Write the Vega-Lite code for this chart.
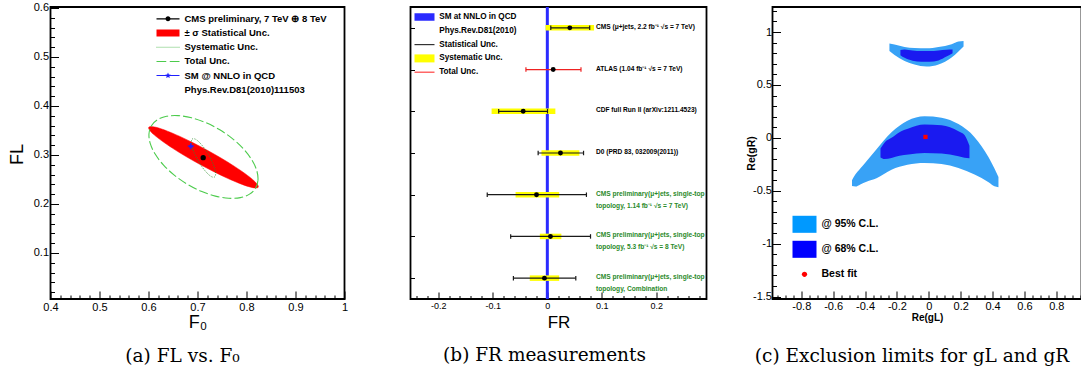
{
"$schema": "https://vega.github.io/schema/vega-lite/v6.json",
"background": "white",
"autosize": {"type": "pad"},
"padding": {"left": 6.5, "top": 1, "right": 0, "bottom": 0},
"bounds": "flush",
"spacing": 66,
"config": {
 "view": {"stroke": "#000000", "strokeWidth": 1.8},
 "axis": {"domain": false, "grid": false, "labelFlush": false, "labelOverlap": false, "labelBound": false, "tickColor": "#000000", "tickWidth": 1, "labelColor": "#000000", "titleColor": "#000000", "labelFont": "Liberation Sans", "titleFont": "Liberation Sans", "titleFontWeight": "normal"},
 "legend": {"padding": 0, "labelFont": "Liberation Sans", "labelFontWeight": "bold", "labelColor": "#000000", "symbolStrokeWidth": 0, "orient": "none"},
 "title": {"font": "DejaVu Serif", "fontSize": 18.5, "fontWeight": "normal", "color": "#000000", "orient": "bottom", "anchor": "middle"}
},
"resolve": {"scale": {"color": "independent", "shape": "independent"}, "legend": {"color": "independent", "shape": "independent"}},
"datasets": {
 "stat": [
  {"i":0,"F0":0.8239,"FL":0.2342},{"i":1,"F0":0.8221,"FL":0.2400},{"i":2,"F0":0.8128,"FL":0.2496},{"i":3,"F0":0.7967,"FL":0.2622},
  {"i":4,"F0":0.7749,"FL":0.2771},{"i":5,"F0":0.7487,"FL":0.2933},{"i":6,"F0":0.7200,"FL":0.3096},{"i":7,"F0":0.6909,"FL":0.3249},
  {"i":8,"F0":0.6631,"FL":0.3383},{"i":9,"F0":0.6387,"FL":0.3486},{"i":10,"F0":0.6194,"FL":0.3554},{"i":11,"F0":0.6063,"FL":0.3580},
  {"i":12,"F0":0.6005,"FL":0.3564},{"i":13,"F0":0.6023,"FL":0.3506},{"i":14,"F0":0.6116,"FL":0.3410},{"i":15,"F0":0.6277,"FL":0.3284},
  {"i":16,"F0":0.6495,"FL":0.3135},{"i":17,"F0":0.6757,"FL":0.2973},{"i":18,"F0":0.7044,"FL":0.2810},{"i":19,"F0":0.7335,"FL":0.2657},
  {"i":20,"F0":0.7613,"FL":0.2523},{"i":21,"F0":0.7857,"FL":0.2420},{"i":22,"F0":0.8050,"FL":0.2352},{"i":23,"F0":0.8181,"FL":0.2326}
 ],
 "tot": [
  {"i":0,"F0":0.8184,"FL":0.2321},{"i":1,"F0":0.8234,"FL":0.2486},{"i":2,"F0":0.8209,"FL":0.2683},{"i":3,"F0":0.8108,"FL":0.2900},
  {"i":4,"F0":0.7941,"FL":0.3120},{"i":5,"F0":0.7719,"FL":0.3329},{"i":6,"F0":0.7455,"FL":0.3513},{"i":7,"F0":0.7169,"FL":0.3659},
  {"i":8,"F0":0.6879,"FL":0.3758},{"i":9,"F0":0.6606,"FL":0.3802},{"i":10,"F0":0.6369,"FL":0.3789},{"i":11,"F0":0.6182,"FL":0.3718},
  {"i":12,"F0":0.6060,"FL":0.3597},{"i":13,"F0":0.6010,"FL":0.3432},{"i":14,"F0":0.6035,"FL":0.3235},{"i":15,"F0":0.6136,"FL":0.3018},
  {"i":16,"F0":0.6303,"FL":0.2798},{"i":17,"F0":0.6525,"FL":0.2589},{"i":18,"F0":0.6789,"FL":0.2405},{"i":19,"F0":0.7075,"FL":0.2259},
  {"i":20,"F0":0.7365,"FL":0.2160},{"i":21,"F0":0.7638,"FL":0.2116},{"i":22,"F0":0.7875,"FL":0.2129},{"i":23,"F0":0.8062,"FL":0.2200}
 ],
 "sys": [
  {"i":0,"F0":0.7346,"FL":0.2550},{"i":1,"F0":0.7369,"FL":0.2633},{"i":2,"F0":0.7326,"FL":0.2797},{"i":3,"F0":0.7228,"FL":0.3000},
  {"i":4,"F0":0.7102,"FL":0.3186},{"i":5,"F0":0.6981,"FL":0.3307},{"i":6,"F0":0.6898,"FL":0.3328},{"i":7,"F0":0.6875,"FL":0.3245},
  {"i":8,"F0":0.6918,"FL":0.3081},{"i":9,"F0":0.7016,"FL":0.2878},{"i":10,"F0":0.7142,"FL":0.2692},{"i":11,"F0":0.7263,"FL":0.2571}
 ],
 "cms": [{"F0":0.7116,"FL":0.2945}],
 "sm": [{"F0":0.6864,"FL":0.3178,"F0lo":0.6800,"F0hi":0.6928,"FLlo":0.3112,"FLhi":0.3244}],
 "smband": [{"lo":-0.0025,"hi":0.0030}],
 "fr": [
  {"exp":"CMS","label1":"CMS (μ+jets, 2.2 fb⁻¹ √s = 7 TeV)","label2":null,"val":0.0415,"slo":-0.003,"shi":0.086,"stlo":0.0066,"sthi":0.078,"tlo":null,"thi":null},
  {"exp":"ATLAS","label1":"ATLAS (1.04 fb⁻¹ √s = 7 TeV)","label2":null,"val":0.011,"slo":null,"shi":null,"stlo":null,"sthi":null,"tlo":-0.039,"thi":0.062},
  {"exp":"CDF","label1":"CDF full Run II (arXiv:1211.4523)","label2":null,"val":-0.044,"slo":-0.102,"shi":0.015,"stlo":-0.089,"sthi":0.0006,"tlo":null,"thi":null},
  {"exp":"D0","label1":"D0 (PRD 83, 032009(2011))","label2":null,"val":0.0244,"slo":-0.0105,"shi":0.059,"stlo":-0.0166,"sthi":0.0667,"tlo":null,"thi":null},
  {"exp":"P7","label1":"CMS preliminary(μ+jets, single-top","label2":" topology, 1.14 fb⁻¹ √s = 7 TeV)","val":-0.0196,"slo":-0.058,"shi":0.022,"stlo":-0.110,"sthi":0.072,"tlo":null,"thi":null},
  {"exp":"P8","label1":"CMS preliminary(μ+jets, single-top","label2":" topology, 5.3 fb⁻¹ √s = 8 TeV)","val":0.006,"slo":-0.0135,"shi":0.026,"stlo":-0.067,"sthi":0.0795,"tlo":null,"thi":null},
  {"exp":"PC","label1":"CMS preliminary(μ+jets, single-top","label2":" topology, Combination","val":-0.005,"slo":-0.032,"shi":0.022,"stlo":-0.062,"sthi":0.0525,"tlo":null,"thi":null}
 ],
 "cres": [
  {"r":"L95","gL":-0.482,"top":-0.400,"bot":-0.455},{"r":"L95","gL":-0.460,"top":-0.345,"bot":-0.460},{"r":"L95","gL":-0.430,"top":-0.290,"bot":-0.440},
  {"r":"L95","gL":-0.391,"top":-0.220,"bot":-0.414},{"r":"L95","gL":-0.328,"top":-0.107,"bot":-0.381},{"r":"L95","gL":-0.234,"top":0.054,"bot":-0.301},
  {"r":"L95","gL":-0.134,"top":0.163,"bot":-0.254},{"r":"L95","gL":-0.027,"top":0.205,"bot":-0.237},{"r":"L95","gL":0.080,"top":0.191,"bot":-0.246},
  {"r":"L95","gL":0.186,"top":0.130,"bot":-0.284},{"r":"L95","gL":0.287,"top":0.007,"bot":-0.346},{"r":"L95","gL":0.375,"top":-0.183,"bot":-0.419},
  {"r":"L95","gL":0.412,"top":-0.290,"bot":-0.457},{"r":"L95","gL":0.437,"top":-0.370,"bot":-0.466},
  {"r":"U95","gL":-0.247,"top":0.891,"bot":0.820},{"r":"U95","gL":-0.215,"top":0.882,"bot":0.783},{"r":"U95","gL":-0.152,"top":0.858,"bot":0.726},
  {"r":"U95","gL":-0.090,"top":0.849,"bot":0.693},{"r":"U95","gL":-0.014,"top":0.846,"bot":0.674},{"r":"U95","gL":0.061,"top":0.858,"bot":0.693},
  {"r":"U95","gL":0.143,"top":0.886,"bot":0.759},{"r":"U95","gL":0.186,"top":0.910,"bot":0.816},{"r":"U95","gL":0.218,"top":0.915,"bot":0.863},
  {"r":"L68","gL":-0.303,"top":-0.100,"bot":-0.185},{"r":"L68","gL":-0.278,"top":-0.045,"bot":-0.200},{"r":"L68","gL":-0.234,"top":0.000,"bot":-0.190},
  {"r":"L68","gL":-0.184,"top":0.054,"bot":-0.170},{"r":"L68","gL":-0.127,"top":0.089,"bot":-0.157},{"r":"L68","gL":-0.027,"top":0.127,"bot":-0.142},
  {"r":"L68","gL":0.080,"top":0.120,"bot":-0.148},{"r":"L68","gL":0.186,"top":0.063,"bot":-0.173},{"r":"L68","gL":0.224,"top":0.026,"bot":-0.187},
  {"r":"L68","gL":0.255,"top":-0.075,"bot":-0.192},
  {"r":"U68","gL":-0.178,"top":0.830,"bot":0.782},{"r":"U68","gL":-0.152,"top":0.836,"bot":0.757},{"r":"U68","gL":-0.102,"top":0.825,"bot":0.730},
  {"r":"U68","gL":-0.046,"top":0.820,"bot":0.719},{"r":"U68","gL":0.004,"top":0.820,"bot":0.719},{"r":"U68","gL":0.061,"top":0.827,"bot":0.732},
  {"r":"U68","gL":0.111,"top":0.834,"bot":0.768},{"r":"U68","gL":0.149,"top":0.836,"bot":0.801}
 ],
 "best": [{"gL":-0.021,"gR":0.009}],
 "none": [{"k":"x"}]
},
"hconcat": [
 {
  "width": 294, "height": 292,
  "title": {"text": "(a) FL vs. F₀", "orient": "bottom", "offset": 15, "dx": -15},
  "resolve": {"axis": {"x": "independent", "y": "independent"}},
  "layer": [
   {"data": {"name": "stat"},
    "mark": {"type": "line", "interpolate": "cardinal-closed", "fill": "#ff0000", "stroke": "#ff0000", "strokeWidth": 0.5},
    "encoding": {
     "x": {"field": "F0", "type": "quantitative", "scale": {"domain": [0.4, 1.0], "nice": false, "zero": false},
       "axis": {"orient": "bottom", "values": [0.4,0.5,0.6,0.7,0.8,0.9,1], "labelExpr": "toString(datum.value)", "tickSize": -8, "labelPadding": 10, "labelFontSize": 11, "title": "F₀", "titleFontSize": 18, "titleY": 28.5, "titleBaseline": "alphabetic"}},
     "y": {"field": "FL", "type": "quantitative", "scale": {"domain": [0.006, 0.602], "nice": false, "zero": false},
       "axis": {"orient": "left", "values": [0.1,0.2,0.3,0.4,0.5,0.6], "labelExpr": "toString(datum.value)", "tickSize": -8, "labelPadding": 10, "labelFontSize": 11, "title": "FL", "titleFontSize": 18, "titleAngle": -90, "titleX": -33.5, "titleY": 147, "titleAlign": "center", "titleBaseline": "middle"}},
     "order": {"field": "i", "type": "quantitative"}
    }},
   {"data": {"name": "tot"},
    "mark": {"type": "line", "interpolate": "cardinal-closed", "stroke": "#4ccb4c", "strokeWidth": 1.1, "strokeDash": [9, 3]},
    "encoding": {
     "x": {"field": "F0", "type": "quantitative", "axis": {"orient": "bottom", "values": [0.42,0.44,0.46,0.48,0.52,0.54,0.56,0.58,0.62,0.64,0.66,0.68,0.72,0.74,0.76,0.78,0.82,0.84,0.86,0.88,0.92,0.94,0.96,0.98], "labels": false, "tickSize": -4, "title": null}},
     "y": {"field": "FL", "type": "quantitative", "axis": {"orient": "left", "values": [0.02,0.04,0.06,0.08,0.12,0.14,0.16,0.18,0.22,0.24,0.26,0.28,0.32,0.34,0.36,0.38,0.42,0.44,0.46,0.48,0.52,0.54,0.56,0.58], "labels": false, "tickSize": -4, "title": null}},
     "order": {"field": "i", "type": "quantitative"}
    }},
   {"data": {"name": "sys"},
    "mark": {"type": "line", "interpolate": "cardinal-closed", "stroke": "#2f8f2f", "strokeWidth": 1, "strokeDash": [1, 1.5]},
    "encoding": {
     "x": {"field": "F0", "type": "quantitative", "axis": null},
     "y": {"field": "FL", "type": "quantitative", "axis": null},
     "order": {"field": "i", "type": "quantitative"}
    }},
   {"data": {"name": "sm"},
    "mark": {"type": "rule", "color": "#2020ff", "strokeWidth": 1},
    "encoding": {
     "x": {"field": "F0lo", "type": "quantitative", "axis": null}, "x2": {"field": "F0hi"},
     "y": {"field": "FL", "type": "quantitative", "axis": null}
    }},
   {"data": {"name": "sm"},
    "mark": {"type": "rule", "color": "#2020ff", "strokeWidth": 1},
    "encoding": {
     "x": {"field": "F0", "type": "quantitative", "axis": null},
     "y": {"field": "FLlo", "type": "quantitative", "axis": null}, "y2": {"field": "FLhi"}
    }},
   {"data": {"name": "sm"},
    "mark": {"type": "point", "filled": true, "color": "#2020ff", "size": 30, "opacity": 1, "shape": "M0,-1L0.29,-0.4L0.95,-0.31L0.47,0.15L0.59,0.81L0,0.5L-0.59,0.81L-0.47,0.15L-0.95,-0.31L-0.29,-0.4Z"},
    "encoding": {
     "x": {"field": "F0", "type": "quantitative", "axis": null},
     "y": {"field": "FL", "type": "quantitative", "axis": null}
    }},
   {"data": {"name": "cms"},
    "mark": {"type": "circle", "color": "#000000", "size": 28, "opacity": 1},
    "encoding": {
     "x": {"field": "F0", "type": "quantitative", "axis": null},
     "y": {"field": "FL", "type": "quantitative", "axis": null}
    }},
   {"data": {"name": "none"},
    "transform": [{"filter": "false"}],
    "mark": {"type": "point", "filled": true, "opacity": 1},
    "encoding": {
     "color": {"field": "k", "type": "nominal",
       "scale": {"domain": ["CMS preliminary, 7 TeV ⊕ 8 TeV", "± σ Statistical Unc.", "Systematic Unc.", "Total Unc.", "SM @ NNLO in QCD", "Phys.Rev.D81(2010)111503"],
                 "range": ["#000000", "#ff0000", "#5fbf5f", "#4ccb4c", "#2020ff", "rgba(0,0,0,0)"]},
       "legend": {"title": null, "legendX": 112.5, "legendY": 6.8, "symbolSize": 100, "labelFontSize": 9.5, "labelOffset": 11.5, "rowPadding": 4.2}},
     "shape": {"field": "k", "type": "nominal",
       "scale": {"domain": ["CMS preliminary, 7 TeV ⊕ 8 TeV", "± σ Statistical Unc.", "Systematic Unc.", "Total Unc.", "SM @ NNLO in QCD", "Phys.Rev.D81(2010)111503"],
                 "range": [
                   "M-2.3,-0.12H2.3V0.12H-2.3Z M0.5,0A0.5,0.5 0 1,1 -0.5,0A0.5,0.5 0 1,1 0.5,0Z",
                   "M-2.3,-0.7H2.3V0.7H-2.3Z",
                   "M-2.3,-0.1h0.2v0.2h-0.2Z M-1.9,-0.1h0.2v0.2h-0.2Z M-1.5,-0.1h0.2v0.2h-0.2Z M-1.1,-0.1h0.2v0.2h-0.2Z M-0.7,-0.1h0.2v0.2h-0.2Z M-0.3,-0.1h0.2v0.2h-0.2Z M0.1,-0.1h0.2v0.2h-0.2Z M0.5,-0.1h0.2v0.2h-0.2Z M0.9,-0.1h0.2v0.2h-0.2Z M1.3,-0.1h0.2v0.2h-0.2Z M1.7,-0.1h0.2v0.2h-0.2Z M2.1,-0.1h0.2v0.2h-0.2Z",
                   "M-2.3,-0.1H-0.35V0.1H-2.3Z M0.35,-0.1H2.3V0.1H0.35Z",
                   "M-2.3,-0.1H2.3V0.1H-2.3Z M0,-0.6L0.17,-0.24L0.57,-0.19L0.28,0.09L0.35,0.48L0,0.3L-0.35,0.48L-0.28,0.09L-0.57,-0.19L-0.17,-0.24Z",
                   "M-0.1,-0.1H0.1V0.1H-0.1Z"
                 ]}}
    }}
  ]
 },
 {
  "width": 296, "height": 292,
  "title": {"text": "(b) FR measurements", "orient": "bottom", "offset": 15, "dx": -14},
  "resolve": {"axis": {"x": "independent", "y": "independent"}},
  "layer": [
   {"data": {"name": "smband"},
    "mark": {"type": "rect", "color": "#2a2aff"},
    "encoding": {
     "x": {"field": "lo", "type": "quantitative", "scale": {"domain": [-0.2508, 0.2923], "nice": false, "zero": false},
       "axis": {"orient": "bottom", "values": [-0.2,-0.1,0,0.1,0.2], "labelExpr": "toString(datum.value)", "tickSize": -7, "labelPadding": 9, "labelFontSize": 9, "title": "FR", "titleFontSize": 17, "titleY": 28.5, "titleBaseline": "alphabetic"}},
     "x2": {"field": "hi"}
    }},
   {"data": {"name": "fr"},
    "transform": [{"filter": "isValid(datum.slo)"}],
    "mark": {"type": "rule", "color": "#ffff00", "strokeWidth": 5.5, "strokeCap": "butt"},
    "encoding": {
     "x": {"field": "slo", "type": "quantitative", "axis": {"orient": "bottom", "values": [-0.24,-0.22,-0.18,-0.16,-0.14,-0.12,-0.08,-0.06,-0.04,-0.02,0.02,0.04,0.06,0.08,0.12,0.14,0.16,0.18,0.22,0.24,0.26,0.28], "labels": false, "tickSize": -3.5, "title": null}},
     "x2": {"field": "shi"},
     "y": {"field": "exp", "type": "nominal", "scale": {"type": "point", "domain": ["CMS","ATLAS","CDF","D0","P7","P8","PC"], "padding": 0.5},
       "axis": {"orient": "left", "labels": false, "tickSize": -4, "title": null}}
    }},
   {"data": {"name": "fr"},
    "transform": [{"filter": "isValid(datum.stlo)"}],
    "mark": {"type": "rule", "color": "#1a1a1a", "strokeWidth": 1.2},
    "encoding": {
     "x": {"field": "stlo", "type": "quantitative", "axis": null}, "x2": {"field": "sthi"},
     "y": {"field": "exp", "type": "nominal", "axis": null}
    }},
   {"data": {"name": "fr"},
    "transform": [{"filter": "isValid(datum.stlo)"}, {"fold": ["stlo", "sthi"], "as": ["end", "pos"]}],
    "mark": {"type": "point", "filled": false, "color": "#1a1a1a", "strokeWidth": 1.2, "size": 20, "opacity": 1, "shape": "M0,-1L0,1"},
    "encoding": {
     "x": {"field": "pos", "type": "quantitative", "axis": null},
     "y": {"field": "exp", "type": "nominal", "axis": null}
    }},
   {"data": {"name": "fr"},
    "transform": [{"filter": "isValid(datum.tlo)"}],
    "mark": {"type": "rule", "color": "#ee2222", "strokeWidth": 1.2},
    "encoding": {
     "x": {"field": "tlo", "type": "quantitative", "axis": null}, "x2": {"field": "thi"},
     "y": {"field": "exp", "type": "nominal", "axis": null}
    }},
   {"data": {"name": "fr"},
    "transform": [{"filter": "isValid(datum.tlo)"}, {"fold": ["tlo", "thi"], "as": ["end", "pos"]}],
    "mark": {"type": "point", "filled": false, "color": "#ee2222", "strokeWidth": 1.2, "size": 20, "opacity": 1, "shape": "M0,-1L0,1"},
    "encoding": {
     "x": {"field": "pos", "type": "quantitative", "axis": null},
     "y": {"field": "exp", "type": "nominal", "axis": null}
    }},
   {"data": {"name": "fr"},
    "mark": {"type": "circle", "color": "#000000", "size": 24, "opacity": 1},
    "encoding": {
     "x": {"field": "val", "type": "quantitative", "axis": null},
     "y": {"field": "exp", "type": "nominal", "axis": null}
    }},
   {"data": {"name": "fr"},
    "mark": {"type": "text", "align": "left", "baseline": "middle", "font": "Liberation Sans", "fontWeight": "bold", "fontSize": 6.6, "dy": -1, "clip": true},
    "encoding": {
     "x": {"datum": 0.0895, "type": "quantitative", "axis": null},
     "y": {"field": "exp", "type": "nominal", "axis": null},
     "text": {"field": "label1", "type": "nominal"},
     "color": {"condition": {"test": "indexof(datum.label1, 'preliminary') >= 0", "value": "#2a8a2a"}, "value": "#000000"}
    }},
   {"data": {"name": "fr"},
    "transform": [{"filter": "isValid(datum.label2)"}],
    "mark": {"type": "text", "align": "left", "baseline": "middle", "font": "Liberation Sans", "fontWeight": "bold", "fontSize": 6.6, "dy": 11, "clip": true, "color": "#2a8a2a"},
    "encoding": {
     "x": {"datum": 0.0895, "type": "quantitative", "axis": null},
     "y": {"field": "exp", "type": "nominal", "axis": null},
     "text": {"field": "label2", "type": "nominal"}
    }},
   {"data": {"name": "none"},
    "transform": [{"filter": "false"}],
    "mark": {"type": "point", "filled": true, "opacity": 1},
    "encoding": {
     "color": {"field": "k", "type": "nominal",
       "scale": {"domain": ["SM at NNLO in QCD", "Phys.Rev.D81(2010)", "Statistical Unc.", "Systematic Unc.", "Total Unc."],
                 "range": ["#2a2aff", "rgba(0,0,0,0)", "#333333", "#ffff00", "#ff4040"]},
       "legend": {"title": null, "legendX": 9, "legendY": 5, "symbolSize": 100, "labelFontSize": 8.2, "labelOffset": 9.7, "rowPadding": 4.8}},
     "shape": {"field": "k", "type": "nominal",
       "scale": {"domain": ["SM at NNLO in QCD", "Phys.Rev.D81(2010)", "Statistical Unc.", "Systematic Unc.", "Total Unc."],
                 "range": ["M-2,-0.75H2V0.75H-2Z", "M-0.1,-0.1H0.1V0.1H-0.1Z", "M-2,-0.12H2V0.12H-2Z", "M-2,-0.8H2V0.8H-2Z", "M-2,-0.12H2V0.12H-2Z"]}}
    }}
  ]
 },
 {
  "width": 309, "height": 292,
  "title": {"text": "(c) Exclusion limits for gL and gR", "orient": "bottom", "offset": 25, "dx": -15},
  "resolve": {"axis": {"x": "independent", "y": "independent"}},
  "layer": [
   {"data": {"name": "cres"},
    "transform": [{"filter": "datum.r == 'L95' || datum.r == 'U95'"}],
    "mark": {"type": "area", "interpolate": "monotone", "color": "#38a2f6", "opacity": 1},
    "encoding": {
     "x": {"field": "gL", "type": "quantitative", "scale": {"domain": [-0.9806, 0.958], "nice": false, "zero": false},
       "axis": {"orient": "bottom", "values": [-0.8,-0.6,-0.4,-0.2,0,0.2,0.4,0.6,0.8], "labelExpr": "toString(datum.value)", "tickSize": -8, "labelPadding": 9, "labelFontSize": 11, "title": "Re(gL)", "titleFontSize": 10, "titleFontWeight": "bold", "titleY": 21, "titleBaseline": "alphabetic"}},
     "y": {"field": "top", "type": "quantitative", "scale": {"domain": [-1.523, 1.237], "nice": false, "zero": false},
       "axis": {"orient": "left", "values": [-1.5,-1,-0.5,0,0.5,1], "labelExpr": "toString(datum.value)", "tickSize": -8, "labelPadding": 9, "labelFontSize": 11, "title": "Re(gR)", "titleFontSize": 10.5, "titleFontWeight": "bold", "titleAngle": -90, "titleX": -21, "titleY": 146, "titleAlign": "center", "titleBaseline": "middle"}},
     "y2": {"field": "bot"},
     "detail": {"field": "r", "type": "nominal"}
    }},
   {"data": {"name": "cres"},
    "transform": [{"filter": "datum.r == 'L68' || datum.r == 'U68'"}],
    "mark": {"type": "area", "interpolate": "monotone", "color": "#1a1af0", "opacity": 1},
    "encoding": {
     "x": {"field": "gL", "type": "quantitative", "axis": {"orient": "bottom", "values": [-0.95,-0.9,-0.85,-0.75,-0.7,-0.65,-0.55,-0.5,-0.45,-0.35,-0.3,-0.25,-0.15,-0.1,-0.05,0.05,0.1,0.15,0.25,0.3,0.35,0.45,0.5,0.55,0.65,0.7,0.75,0.85,0.9,0.95], "labels": false, "tickSize": -4, "title": null}},
     "y": {"field": "top", "type": "quantitative", "axis": {"orient": "left", "values": [-1.4,-1.3,-1.2,-1.1,-0.9,-0.8,-0.7,-0.6,-0.4,-0.3,-0.2,-0.1,0.1,0.2,0.3,0.4,0.6,0.7,0.8,0.9,1.1,1.2], "labels": false, "tickSize": -4, "title": null}},
     "y2": {"field": "bot"},
     "detail": {"field": "r", "type": "nominal"}
    }},
   {"data": {"name": "best"},
    "mark": {"type": "square", "color": "#ff0000", "size": 18, "opacity": 1},
    "encoding": {
     "x": {"field": "gL", "type": "quantitative", "axis": null},
     "y": {"field": "gR", "type": "quantitative", "axis": null}
    }},
   {"data": {"name": "none"},
    "transform": [{"filter": "false"}],
    "mark": {"type": "point", "filled": true, "opacity": 1},
    "encoding": {
     "color": {"field": "k", "type": "nominal",
       "scale": {"domain": ["@ 95% C.L.", "@ 68% C.L.", "Best fit"], "range": ["#0099ff", "#0000ff", "#ff0000"]},
       "legend": {"title": null, "legendX": 20, "legendY": 205.3, "symbolSize": 576, "labelFontSize": 10.5, "labelOffset": 5, "rowPadding": 4}},
     "shape": {"field": "k", "type": "nominal",
       "scale": {"domain": ["@ 95% C.L.", "@ 68% C.L.", "Best fit"], "range": ["M-1,-0.71H1V0.71H-1Z", "M-1,-0.71H1V0.71H-1Z", "M-1,-0.71M1,0.71M0.22,0A0.22,0.22 0 1,1 -0.22,0A0.22,0.22 0 1,1 0.22,0Z"]}}
    }}
  ]
 }
]
}
